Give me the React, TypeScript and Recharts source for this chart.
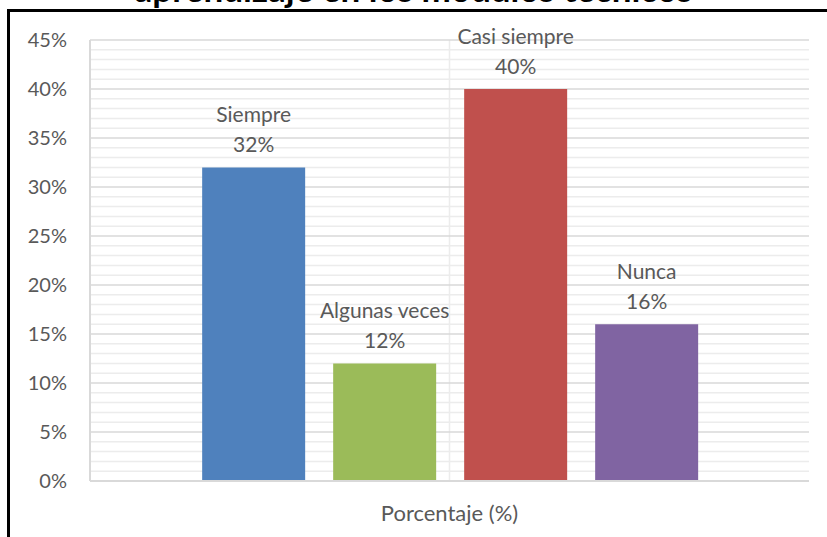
import React from 'react';
import {
  Bar,
  BarChart,
  CartesianGrid,
  LabelList,
  XAxis,
  YAxis
} from 'recharts';

// Data
const CATEGORY = 'Porcentaje (%)';
const SERIES_NAMES = ['Siempre', 'Algunas veces', 'Casi siempre', 'Nunca'];
const SERIES_VALUES = [32, 12, 40, 16];
const SERIES_COLORS = ['#4f81bd', '#9bbb59', '#c0504d', '#8064a2'];
const Y_MAX = 45;
const MAJOR_TICKS = [0, 5, 10, 15, 20, 25, 30, 35, 40, 45];
const MINOR_TICKS = [
  1, 2, 3, 4, 6, 7, 8, 9, 11, 12, 13, 14, 16, 17, 18, 19, 21, 22, 23, 24,
  26, 27, 28, 29, 31, 32, 33, 34, 36, 37, 38, 39, 41, 42, 43, 44
];
const TITLE = 'aprendizaje en los módulos técnicos';

const row: Record<string, any> = { name: CATEGORY };
SERIES_NAMES.forEach((s, i) => {
  row[s] = SERIES_VALUES[i];
});
const data = [row];

const FONT = 'Lato, "Open Sans", sans-serif';
const TEXT_COLOR = '#595959';

const renderLabel = (props: any, seriesName: string) => {
  const { x, y, width, value } = props;
  const cx = Number(x) + Number(width) / 2;
  return (
    <g>
      <text x={cx} y={Number(y) - 54} textAnchor="middle" dominantBaseline="central"
        fill={TEXT_COLOR} fontSize={21} fontFamily={FONT}>
        {seriesName}
      </text>
      <text x={cx} y={Number(y) - 24} textAnchor="middle" dominantBaseline="central"
        fill={TEXT_COLOR} fontSize={21} fontFamily={FONT}>
        {`${value}%`}
      </text>
    </g>
  );
};

// minor gridlines: use the axis scale when it is callable, else the plot box
const minorRows = (p: any) => {
  const scale = p?.yAxis?.scale;
  if (typeof scale === 'function') return MINOR_TICKS.map((t) => scale(t));
  if (scale && typeof scale.map === 'function') return MINOR_TICKS.map((t) => scale.map(t));
  const o = p?.offset;
  if (!o) return [];
  return MINOR_TICKS.map((t) => o.top + o.height * (1 - t / Y_MAX));
};
const midColumn = (p: any) => {
  const o = p?.offset;
  if (!o) return [];
  return [o.left + o.width / 2];
};

export default function App() {
  return (
    <div style={{ position: 'absolute', left: 0, top: 0, width: 827, height: 537, overflow: 'hidden', background: '#fff' }}>
      <div
        style={{
          position: 'absolute',
          left: 0,
          width: 827,
          top: -29,
          textAlign: 'center',
          fontFamily: FONT,
          fontWeight: 'bold',
          fontSize: 35,
          lineHeight: '35px',
          color: '#000'
        }}
      >
        {TITLE}
      </div>
      <div
        style={{
          position: 'absolute',
          left: 7,
          top: 9,
          width: 900,
          height: 600,
          border: '3px solid #000'
        }}
      />
      <div style={{ position: 'absolute', left: 0, top: 0 }}>
        <BarChart
          width={827}
          height={537}
          data={data}
          margin={{ top: 40, right: 18, bottom: 0, left: 0 }}
          barCategoryGap="15.6%"
          barGap={28}
        >
          <CartesianGrid
            stroke="#ececec"
            strokeWidth={1.5}
            horizontalCoordinatesGenerator={minorRows}
            verticalCoordinatesGenerator={midColumn}
          />
          <CartesianGrid vertical={false} stroke="#d9d9d9" strokeWidth={1.5} />
          <XAxis
            dataKey="name"
            height={56}
            tickLine={false}
            tickSize={0}
            tickMargin={24}
            axisLine={{ stroke: '#d9d9d9', strokeWidth: 2 }}
            tick={{ fill: TEXT_COLOR, fontSize: 22, fontFamily: FONT }}
          />
          <YAxis
            width={90}
            domain={[0, Y_MAX]}
            ticks={MAJOR_TICKS}
            tickFormatter={(v: number) => `${v}%`}
            tickLine={false}
            tickSize={0}
            tickMargin={23}
            axisLine={{ stroke: '#d9d9d9', strokeWidth: 2 }}
            tick={{ fill: TEXT_COLOR, fontSize: 20, fontFamily: FONT }}
          />
          <YAxis
            yAxisId="right"
            orientation="right"
            width={0}
            domain={[0, Y_MAX]}
            tick={false}
            tickLine={false}
            axisLine={{ stroke: '#d9d9d9', strokeWidth: 2 }}
          />
          {SERIES_NAMES.map((s, i) => (
            <Bar key={s} dataKey={s} fill={SERIES_COLORS[i]} isAnimationActive={false}>
              <LabelList dataKey={s} content={(p: any) => renderLabel(p, s)} />
            </Bar>
          ))}
        </BarChart>
      </div>
    </div>
  );
}
